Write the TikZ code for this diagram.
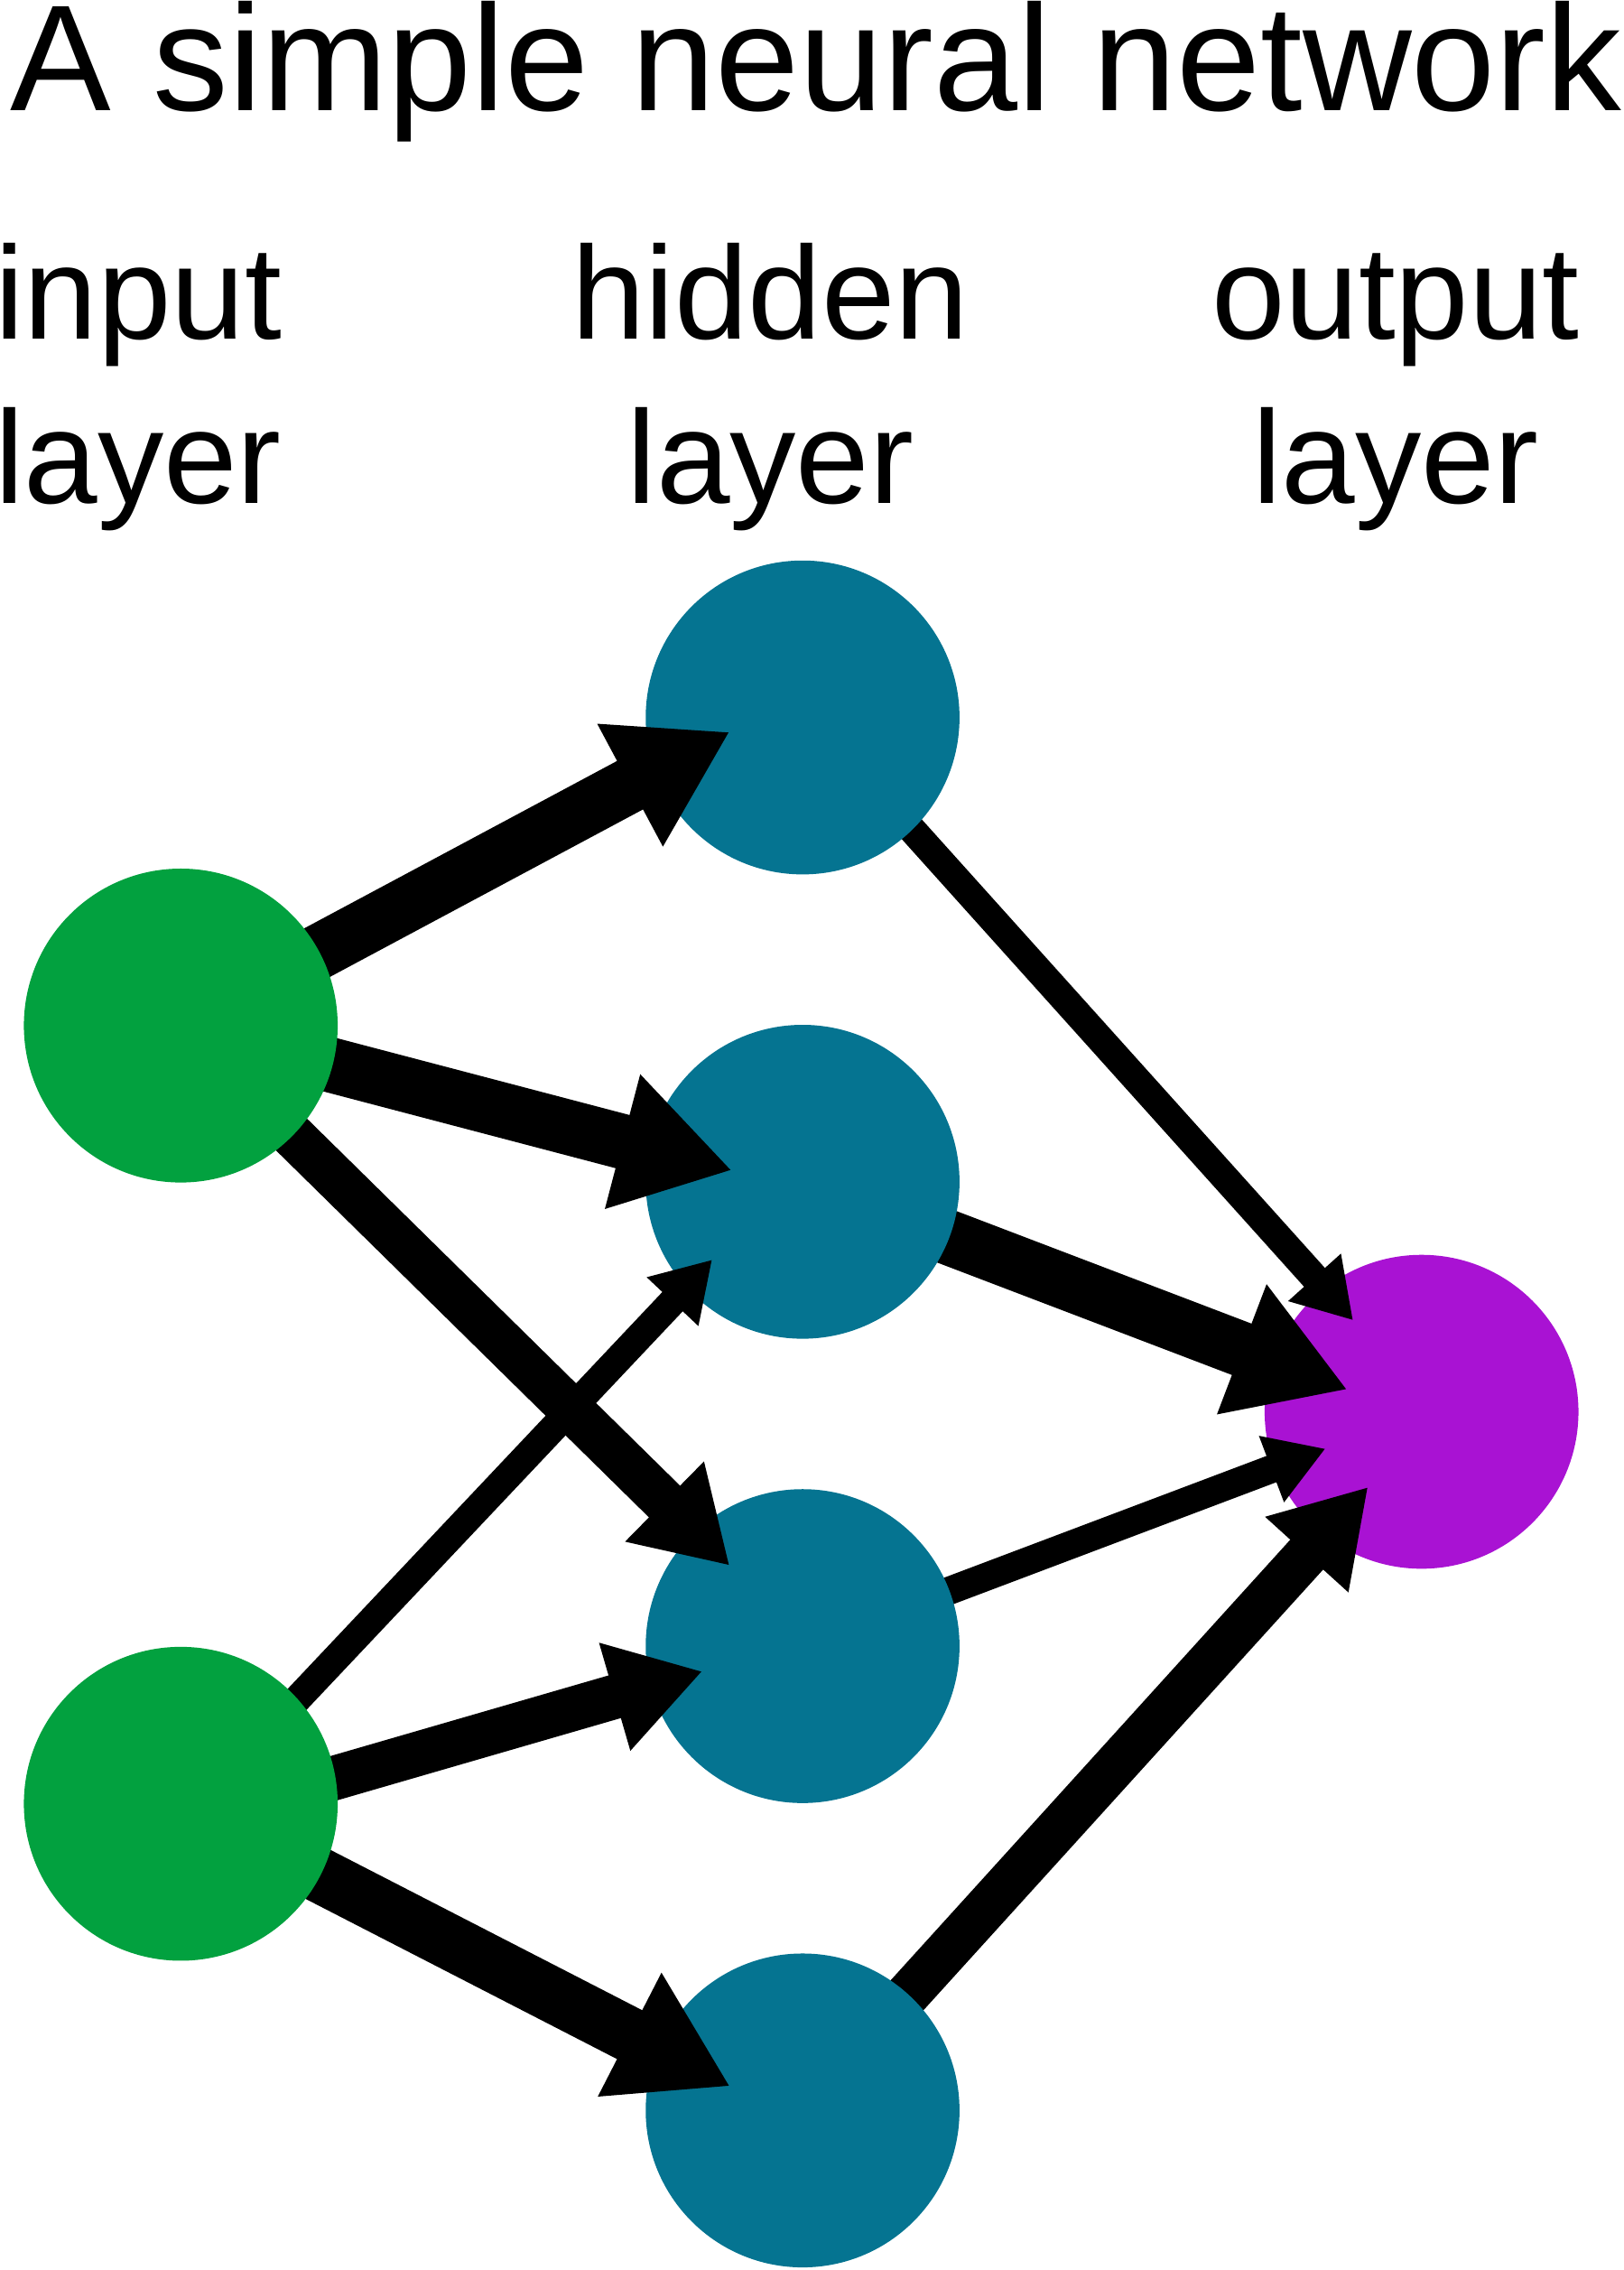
\documentclass[tikz,border=0pt]{standalone}
\usepackage{fontspec}
\setmainfont{Liberation Sans}
\usetikzlibrary{arrows.meta}
\definecolor{ingreen}{HTML}{02A13F}
\definecolor{hidteal}{HTML}{057491}
\definecolor{outpurple}{HTML}{A912D3}
\pgfdeclarelayer{back}
\pgfdeclarelayer{mid}
\pgfsetlayers{back,mid,main}
\begin{document}
\begin{tikzpicture}[x=1pt,y=-1pt,
  neuron/.style={circle, inner sep=0pt, minimum size=217pt, draw=none},
  inneuron/.style={neuron, fill=ingreen},
  hidneuron/.style={neuron, fill=hidteal},
  outneuron/.style={neuron, fill=outpurple},
  wire/.style={line width=#1, draw=black, -{Triangle[length=0pt 2.06, width=0pt 2.38]}},
  heavywire/.style={wire=38pt},
  midwire/.style={wire=30.7pt},
  lightwire/.style={wire=19.4pt},
  lbl/.style={font=\fontsize{91.5}{110}\selectfont, inner sep=0pt, anchor=base},
  ttl/.style={font=\fontsize{104.4}{125}\selectfont, inner sep=0pt, anchor=base west}
]
\useasboundingbox (0,0) rectangle (1123,1569.33);

% texts
\node[ttl] (title) at (7.2,76.7) {A simple neural network};
\node[lbl] (inA) at (95.5,234.7) {input};
\node[lbl] (inB) at (95.5,347.9) {layer};
\node[lbl] (hidA) at (532.7,234.7) {hidden};
\node[lbl] (hidB) at (532.7,347.9) {layer};
\node[lbl] (outA) at (965,234.7) {output};
\node[lbl] (outB) at (965,347.9) {layer};

% arrow tip positions
\coordinate (t1) at (504.7,505.9);
\coordinate (t2) at (506.2,809.1);
\coordinate (t3) at (504.6,1082.4);
\coordinate (t4) at (492.5,870.8);
\coordinate (t5) at (485.8,1155.4);
\coordinate (t6) at (505.0,1442.4);
\coordinate (t7) at (935.7,912.8);
\coordinate (t8) at (931.8,960.7);
\coordinate (t9) at (916.6,1001.5);
\coordinate (t10) at (946.1,1027.9);

% output layer
\begin{pgfonlayer}{back}
\node[outneuron] (o) at (983,976) {};
\end{pgfonlayer}

% hidden layer
\begin{pgfonlayer}{mid}
\node[hidneuron] (h1) at (555,496) {};
\node[hidneuron] (h2) at (555,817) {};
\node[hidneuron] (h3) at (555,1138) {};
\node[hidneuron] (h4) at (555,1459) {};
\end{pgfonlayer}

% input layer
\node[inneuron] (i1) at (125,709) {};
\node[inneuron] (i2) at (125,1247) {};

% hidden -> output
\begin{pgfonlayer}{back}
\draw[lightwire] ([yshift=6.7pt]h1.center) -- (t7);
\draw[heavywire] (h2.center) -- (t8);
\draw[lightwire] (h3.center) -- (t9);
\draw[midwire] (h4.center) -- (t10);
\end{pgfonlayer}

% input -> hidden
\begin{pgfonlayer}{mid}
\draw[heavywire] (i1.center) -- (t1);
\draw[heavywire] (i1.center) -- (t2);
\draw[midwire] (i1.center) -- (t3);
\draw[lightwire] ([yshift=-13pt]i2.center) -- (t4);
\draw[midwire] ([yshift=-13pt]i2.center) -- (t5);
\draw[heavywire] (i2.center) -- (t6);
\end{pgfonlayer}
\end{tikzpicture}
\end{document}
